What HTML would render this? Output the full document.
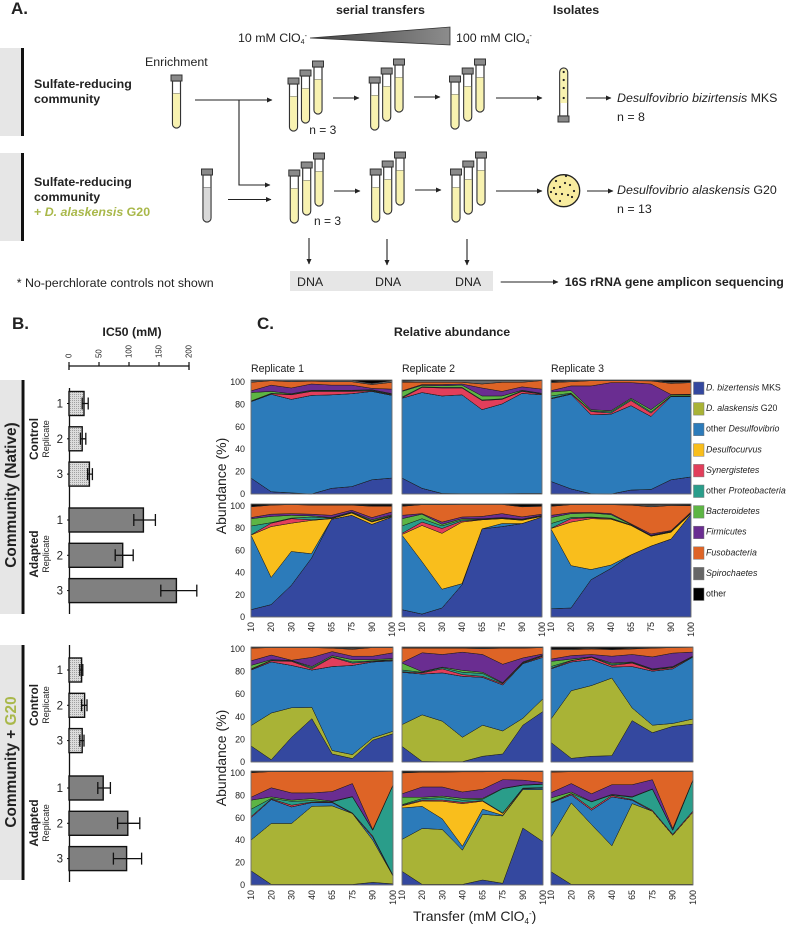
<!DOCTYPE html>
<html lang="en">
<head>
<meta charset="utf-8">
<title>Perchlorate enrichment figure</title>
<style>
html,body{margin:0;padding:0;background:#fff}
svg{display:block}
text{font-family:"Liberation Sans",sans-serif;fill:#222}
.b{font-weight:700}
.i{font-style:italic}
</style>
</head>
<body>
<svg id="fig" width="788" height="927" viewBox="0 0 788 927" xmlns="http://www.w3.org/2000/svg">
<defs>
  <marker id="ah" markerWidth="6" markerHeight="6" refX="5" refY="2.5" orient="auto" markerUnits="userSpaceOnUse"><path d="M0 0L5.5 2.5L0 5Z" fill="#222"/></marker>
  <linearGradient id="tri" x1="0" x2="1" y1="0" y2="0"><stop offset="0" stop-color="#444"/><stop offset="1" stop-color="#8c8c8c"/></linearGradient>
  <pattern id="stipple" width="2" height="2" patternUnits="userSpaceOnUse"><rect width="2" height="2" fill="#dcdcdc"/><rect width="1" height="1" fill="#a0a0a0"/></pattern>
  <g id="tube-y">
    <path d="M-4 6V49a4 4 0 0 0 8 0V6Z" fill="#fff" stroke="#333" stroke-width="1.2"/>
    <path d="M-3.4 18.5V49a3.4 3.4 0 0 0 6.8 0V18.5Z" fill="#f8f2b0"/>
    <path d="M-3.4 18.5H3.4" stroke="#9a9a80" stroke-width="0.8"/>
    <rect x="-5.5" y="0" width="11" height="6" fill="#8a8a8a" stroke="#333" stroke-width="1"/>
  </g>
  <g id="tube-g">
    <path d="M-4 6V49a4 4 0 0 0 8 0V6Z" fill="#fff" stroke="#333" stroke-width="1.2"/>
    <path d="M-3.4 18.5V49a3.4 3.4 0 0 0 6.8 0V18.5Z" fill="#d9d9d9"/>
    <path d="M-3.4 18.5H3.4" stroke="#888" stroke-width="0.8"/>
    <rect x="-5.5" y="0" width="11" height="6" fill="#8a8a8a" stroke="#333" stroke-width="1"/>
  </g>
</defs>

<g>
  <text class="b" x="11" y="14" font-size="17">A.</text>
  <text class="b" x="336" y="14" font-size="12.4">serial transfers</text>
  <text class="b" x="553" y="14" font-size="12.4">Isolates</text>
  <text x="238" y="42" font-size="12.4">10 mM ClO<tspan dy="2" font-size="7">4</tspan><tspan dy="-6" font-size="7">-</tspan></text>
  <polygon points="310,38 450,27 450,45" fill="url(#tri)" stroke="#333" stroke-width="0.8"/>
  <text x="456" y="42" font-size="12.4">100 mM ClO<tspan dy="2" font-size="7">4</tspan><tspan dy="-6" font-size="7">-</tspan></text>

  <rect x="0" y="48" width="21" height="88" fill="#e6e6e6"/>
  <rect x="21" y="48" width="3" height="88" fill="#111"/>
  <rect x="0" y="153" width="21" height="88" fill="#e6e6e6"/>
  <rect x="21" y="153" width="3" height="88" fill="#111"/>
  <text class="b" font-size="12.4"><tspan x="34" y="88">Sulfate-reducing</tspan><tspan x="34" y="103">community</tspan></text>
  <text class="b" font-size="12.4"><tspan x="34" y="186">Sulfate-reducing</tspan><tspan x="34" y="201">community</tspan><tspan x="34" y="216" style="fill:#a9b84a">+ <tspan class="i" style="fill:#a9b84a">D. alaskensis</tspan> G20</tspan></text>
  <text x="145" y="66" font-size="12.4">Enrichment</text>

  <g>
    <use href="#tube-y" x="176.5" y="75"/>
    <use href="#tube-g" x="207" y="169"/>
    <use href="#tube-y" x="293.5" y="78"/><use href="#tube-y" x="305.5" y="70"/><use href="#tube-y" x="318" y="61"/>
    <use href="#tube-y" x="374.7" y="77"/><use href="#tube-y" x="386.7" y="68"/><use href="#tube-y" x="399" y="59"/>
    <use href="#tube-y" x="455" y="76"/><use href="#tube-y" x="467.7" y="68"/><use href="#tube-y" x="480" y="59"/>
    <use href="#tube-y" x="294.3" y="170"/><use href="#tube-y" x="306.7" y="162"/><use href="#tube-y" x="319" y="153"/>
    <use href="#tube-y" x="375.7" y="169"/><use href="#tube-y" x="387.7" y="161"/><use href="#tube-y" x="400" y="152"/>
    <use href="#tube-y" x="456" y="169"/><use href="#tube-y" x="468.3" y="161"/><use href="#tube-y" x="481" y="152"/>
  </g>

  <g>
    <path d="M559.7 116V72a4 4 0 0 1 8 0V116Z" fill="#fff" stroke="#333" stroke-width="1.2"/>
    <path d="M560.3 103V72a3.4 3.4 0 0 1 6.8 0V103Z" fill="#f8f2b0"/>
    <rect x="558" y="116" width="11" height="6" fill="#8a8a8a" stroke="#333"/>
    <circle cx="563.7" cy="72" r="1.1" fill="#222"/><circle cx="563.7" cy="80" r="1.1" fill="#222"/><circle cx="563.7" cy="88" r="1.1" fill="#222"/><circle cx="563.7" cy="98" r="1.1" fill="#222"/>
  </g>
  <g>
    <circle cx="563.7" cy="190.7" r="16" fill="#f8ec9f" stroke="#222" stroke-width="1.3"/>
    <circle cx="556" cy="181" r="1.1" fill="#222"/><circle cx="565" cy="183" r="1.1" fill="#222"/><circle cx="570" cy="185" r="1.1" fill="#222"/><circle cx="560" cy="187" r="1.1" fill="#222"/><circle cx="554" cy="188" r="1.1" fill="#222"/><circle cx="574" cy="191" r="1.1" fill="#222"/><circle cx="556" cy="194" r="1.1" fill="#222"/><circle cx="562" cy="194" r="1.1" fill="#222"/><circle cx="568" cy="195" r="1.1" fill="#222"/><circle cx="572" cy="197" r="1.1" fill="#222"/><circle cx="560" cy="201" r="1.1" fill="#222"/><circle cx="566" cy="176" r="1.1" fill="#222"/><circle cx="551" cy="192" r="1.1" fill="#222"/>
  </g>

  <g stroke="#222" stroke-width="1.1" fill="none">
    <path d="M195 100H272" marker-end="url(#ah)"/>
    <path d="M239 100V185H270" marker-end="url(#ah)"/>
    <path d="M228 199.5H271" marker-end="url(#ah)"/>
    <path d="M333 98H359" marker-end="url(#ah)"/><path d="M334 191H360" marker-end="url(#ah)"/>
    <path d="M414 97H440" marker-end="url(#ah)"/><path d="M415 190H441" marker-end="url(#ah)"/>
    <path d="M496 98H542" marker-end="url(#ah)"/><path d="M496 191H542" marker-end="url(#ah)"/>
    <path d="M586 98H611" marker-end="url(#ah)"/><path d="M587 191H613" marker-end="url(#ah)"/>
    <path d="M309 238V264" marker-end="url(#ah)"/><path d="M387 239V265" marker-end="url(#ah)"/><path d="M467 239V265" marker-end="url(#ah)"/>
    <path d="M500.7 282H558" marker-end="url(#ah)"/>
  </g>
  <text x="309.3" y="134" font-size="12">n = 3</text>
  <text x="314" y="225" font-size="12">n = 3</text>
  <text x="617" y="102" font-size="12.4"><tspan class="i">Desulfovibrio bizirtensis</tspan> MKS</text>
  <text x="617" y="121" font-size="12.4">n = 8</text>
  <text x="617" y="194" font-size="12.4"><tspan class="i">Desulfovibrio alaskensis</tspan> G20</text>
  <text x="617" y="213" font-size="12.4">n = 13</text>
  <rect x="290" y="271" width="203" height="20" fill="#e6e6e6"/>
  <text x="297" y="286" font-size="12.4">DNA</text>
  <text x="375" y="286" font-size="12.4">DNA</text>
  <text x="455" y="286" font-size="12.4">DNA</text>
  <text class="b" x="564.7" y="286" font-size="12.4">16S rRNA gene amplicon sequencing</text>
  <text x="16.7" y="287" font-size="12.4">* No-perchlorate controls not shown</text>
</g>

<g>
  <text class="b" x="12" y="329" font-size="17">B.</text>
  <text class="b" x="132" y="336" font-size="12.4" text-anchor="middle">IC50 (mM)</text>
  <rect x="0" y="380" width="21" height="234" fill="#e6e6e6"/>
  <rect x="21.5" y="380" width="3" height="234" fill="#111"/>
  <rect x="0" y="645" width="21" height="235" fill="#e6e6e6"/>
  <rect x="21.5" y="645" width="3" height="235" fill="#111"/>
  <text class="b" font-size="15.4" text-anchor="middle" transform="translate(16 495) rotate(-90)">Community (Native)</text>
  <text class="b" font-size="15.4" text-anchor="middle" transform="translate(16 762) rotate(-90)">Community + <tspan style="fill:#a9b84a">G20</tspan></text>
  <text class="b" font-size="11.8" text-anchor="middle" transform="translate(38 439) rotate(-90)">Control</text>
  <text font-size="9" text-anchor="middle" transform="translate(49 439) rotate(-90)">Replicate</text>
  <text class="b" font-size="11.8" text-anchor="middle" transform="translate(38 554) rotate(-90)">Adapted</text>
  <text font-size="9" text-anchor="middle" transform="translate(49 554) rotate(-90)">Replicate</text>
  <text class="b" font-size="11.8" text-anchor="middle" transform="translate(38 705) rotate(-90)">Control</text>
  <text font-size="9" text-anchor="middle" transform="translate(49 705) rotate(-90)">Replicate</text>
  <text class="b" font-size="11.8" text-anchor="middle" transform="translate(38 823) rotate(-90)">Adapted</text>
  <text font-size="9" text-anchor="middle" transform="translate(49 823) rotate(-90)">Replicate</text>
</g>
<g id="bars"></g>

<g>
  <text class="b" x="257" y="329" font-size="17">C.</text>
  <text class="b" x="452" y="336" font-size="12.4" text-anchor="middle">Relative abundance</text>
  <text font-size="14" text-anchor="middle" transform="translate(226 486) rotate(-90)">Abundance (%)</text>
  <text font-size="14" text-anchor="middle" transform="translate(226 758) rotate(-90)">Abundance (%)</text>
  <text x="413" y="921" font-size="14">Transfer (mM ClO<tspan dy="3" font-size="8">4</tspan><tspan dy="-8" font-size="8">-</tspan><tspan dy="5">)</tspan></text>
</g>
<g id="areas"></g>
<g id="legend"></g>
</svg>

<script>
/* ---- IC50 bars ---- */
const ic50Ticks = [0, 50, 100, 150, 200];
const replicateLabels = ["1", "2", "3"];
const nativeControlIC50 = [25, 22, 34];
const nativeControlLow = [22, 19, 31];
const nativeControlHigh = [32, 28, 39];
const nativeAdaptedIC50 = [124, 89.5, 179];
const nativeAdaptedLow = [108, 77, 153];
const nativeAdaptedHigh = [144, 107, 213];
const g20ControlIC50 = [21, 26, 22];
const g20ControlLow = [18, 21, 18];
const g20ControlHigh = [23, 30, 25];
const g20AdaptedIC50 = [57, 98, 96];
const g20AdaptedLow = [48, 81, 74];
const g20AdaptedHigh = [69, 118, 121];

/* ---- abundance charts ---- */
const transfers = ["10", "20", "30", "40", "65", "75", "90", "100"];
const abundanceTicks = [0, 20, 40, 60, 80, 100];
const taxa = ["D. bizertensis MKS", "D. alaskensis G20", "other Desulfovibrio", "Desulfocurvus", "Synergistetes", "other Proteobacteria", "Bacteroidetes", "Firmicutes", "Fusobacteria", "Spirochaetes", "other"];
const replicateTitles = ["Replicate 1", "Replicate 2", "Replicate 3"];

/* each row: upper boundary (%) of a taxon in the stack, bottom taxon first */
const nativeControlRep1 = [
  [14,2,1,0,5,6.5,12.5,14],
  [14,2,1,0,5,6.5,12.5,14],
  [81,87.5,83,86.5,87,88,90,86.5],
  [81,87.5,83,86.5,87,88,90,86.5],
  [81.3,88,87,90,90,90,90.5,87],
  [81.6,88.3,87.5,90.5,90.5,90.5,91,87.5],
  [89,90,88,91,91,91,91.5,88],
  [90.5,95.5,93,96.5,95.5,95.5,92.7,92],
  [98,99.4,98.5,99,98.5,98.5,96,98],
  [99.5,99.7,99.7,99.7,99.7,99.7,97,99.5],
  [100,100,100,100,100,100,100,100]];
const nativeControlRep2 = [
  [14,5,0.5,0.3,0.3,0.3,0.5,0.5],
  [14,5,0.5,0.3,0.3,0.3,0.5,0.5],
  [84,89,86,87,74,79,88.3,87],
  [84,89,86,87,74,79,88.3,87],
  [84.3,93.5,93,93,82,83,90,87.5],
  [85,94,93.5,93.5,82.5,83.5,90.5,88],
  [90,95.3,95,95.5,86,86,91,88.3],
  [90.5,96,96,96.5,93,90,94,92],
  [98,98,98,98,96.5,98,98,99.5],
  [99,99.5,99.5,99.5,99.5,99.5,99.5,99.8],
  [100,100,100,100,100,100,100,100]];
const nativeControlRep3 = [
  [11,4.5,0.3,0,3.5,4,12.5,15],
  [11,4.5,0.3,0,3.5,4,12.5,15],
  [83.5,87.5,69.5,70,77.5,68,85.5,85.5],
  [83.5,87.5,69.5,70,77.5,68,85.5,85.5],
  [84,88,72.3,71,82,71,85.7,85.7],
  [86,88.5,73,72,83,72,86,86],
  [89.5,90.7,74,73,84,74,87,87],
  [90.7,94.8,94.8,97.7,97.7,96.5,87.3,87.5],
  [97.7,98.5,99.4,99.4,99.4,99.2,97,97.7],
  [98.5,99.5,99.7,99.8,99.8,99.7,98,98.5],
  [100,100,100,100,100,100,100,100]];
const nativeAdaptedRep1 = [
  [6.5,11,28,52,86.5,90,82,88.5],
  [6.5,11,28,52,86.5,90,82,88.5],
  [72.5,35,58,56,86.5,90,82,88.5],
  [72.5,80,83,85.5,87,92,84,89],
  [72.7,83,87,86,87.2,92.2,84.5,89.3],
  [80.5,83.5,87.5,88.5,87.5,92.5,85,89.8],
  [87,89,90,89.5,88,93,86,90.5],
  [88,91,91.5,91,90,94.5,88,93],
  [97.5,99,99.5,99,99,99,98,98],
  [98,99.4,99.7,99.3,99.3,99.4,98.5,98.5],
  [100,100,100,100,100,100,100,100]];
const nativeAdaptedRep2 = [
  [6.5,2.6,8,28.5,78,80,82.7,88.5],
  [6.5,2.6,8,28.5,78,80,82.7,88.5],
  [72.5,49,24.6,29.5,78,82.7,82.7,88.5],
  [73,81,74,84,86,87,85.6,89],
  [74,84,78.3,85,86.3,87.3,86,89.3],
  [80.6,87,80.6,86,86.6,87.6,86.3,89.6],
  [87,91,82,87,87,88,86.6,90],
  [90,91.5,84,88.5,89,91.5,88.6,91],
  [98,99.4,99.4,99.6,99.6,99.6,97.5,98],
  [98.5,99.6,99.6,99.7,99.7,99.7,98,98.5],
  [100,100,100,100,100,100,100,100]];
const nativeAdaptedRep3 = [
  [7.3,8,33,43,55,62.8,69,91],
  [7.3,8,33,43,55,62.8,69,91],
  [78,45.5,42,46,55,62.8,69,91],
  [78.3,84,87,86.5,81,71.5,75,91.5],
  [78.5,87,88,87,81.3,71.7,75.3,91.7],
  [82.7,88,88.5,87.5,81.5,72,75.6,92],
  [88,91.5,92,90.6,82,72.3,76,92.3],
  [90,92.4,92.5,91.5,82.5,73.5,76.5,93],
  [98,99.4,99.4,99.4,99,97.5,98.7,98.5],
  [98.5,99.6,99.6,99.6,99.3,99,99.3,99],
  [100,100,100,100,100,100,100,100]];
const g20ControlRep1 = [
  [14,2,21.5,37.7,7,3,19,24.6],
  [31.6,42.6,47.2,47.5,10,6.4,21,26.7],
  [80,87,84,80,83,84,87,88],
  [80,87,84,80,83,84,87,88],
  [80.5,88,87.5,81,91,86,87.5,88.5],
  [81,88.5,88,82,91.5,87,88,89],
  [84,89,88.3,83,92.5,89,89,90],
  [88,93,88.5,91,96,92,92,95],
  [99,99.5,99.5,99.5,99,98,99.5,99.5],
  [99.4,99.7,99.7,99.7,99.5,99,99.7,99.7],
  [100,100,100,100,100,100,100,100]];
const g20ControlRep2 = [
  [13.6,0.5,0.3,0.3,5,7,32,44],
  [32.5,41,35.5,21.5,32,27,38,55],
  [78,76.5,77.5,74.5,73.6,67,85.5,91],
  [78,76.5,77.5,74.5,73.6,67,85.5,91],
  [78.5,77.5,81,76,74.5,68,86,92],
  [80,78,82,78,77,68.5,86.5,92.5],
  [86,78.6,82.5,79.7,78,69,87,93],
  [86.5,95,93.5,95.5,93.5,85,90.5,94],
  [99,99,99,99,98.5,99,99,99.5],
  [99.4,99.4,99.4,99.4,99.2,99.4,99.4,99.7],
  [100,100,100,100,100,100,100,100]];
const g20ControlRep3 = [
  [17,3.2,5,5.5,36,25.5,31,33],
  [37.4,62,66.5,73,47,32,33.5,37.4],
  [81,87,89,82.6,83,79,81,91.3],
  [81,87,89,82.6,83,79,81,91.3],
  [81.5,88,91,84,86,80,82,91.6],
  [83,88.3,91.2,85,86.5,80.5,82.5,91.9],
  [87.5,89.5,91.5,86,87,81,83,92.2],
  [89.5,92.5,93.5,92,93.5,91.4,94.7,95.6],
  [97.7,97.7,98.3,97.7,98.3,99,99.5,99.7],
  [98.5,98.5,99,98.2,99,99.5,99.7,99.8],
  [100,100,100,100,100,100,100,100]];
const g20AdaptedRep1 = [
  [12.5,0.5,0.5,0.5,0.5,0.5,2.3,1],
  [39.4,54,54,69,69.4,62.7,39.4,8],
  [59,75,68.5,72.3,72.3,62.7,42,8],
  [59,75,68.5,72.3,72.3,62.7,42,8],
  [60,75.5,70,72.8,72.8,63.2,43,8.5],
  [66.4,76,73.4,74,73,77.3,48,87.5],
  [74.4,77.3,74.4,75.8,73.5,77.6,48.3,87.6],
  [77,85.3,80.8,80.8,82,89,48.7,87.8],
  [98.5,99.5,99.4,99.4,99.5,99.5,99.5,99.7],
  [99,99.7,99.7,99.7,99.7,99.7,99.7,99.8],
  [100,100,100,100,100,100,100,100]];
const g20AdaptedRep2 = [
  [12,0.5,0.5,0.5,4.4,1.5,50,38],
  [40,49.6,48.7,30.6,62,60.6,83.7,83.7],
  [67.6,69,58,34,66.5,61.2,84.5,85],
  [69.4,73.7,73.5,71.4,73.5,62.7,84.7,85.2],
  [70,74.5,74.5,72.5,74,63.2,85,85.5],
  [70.5,75.8,76.7,74.4,75.2,84.5,87.5,88.3],
  [77,77,78,76,76,84.8,87.8,88.6],
  [80,86,86,81.6,84,92.4,92,90],
  [98.3,99,99,99.3,99.3,99.5,99.5,99.5],
  [98.8,99.4,99.4,99.6,99.6,99.7,99.7,99.7],
  [100,100,100,100,100,100,100,100]];
const g20AdaptedRep3 = [
  [11.7,0.5,0.5,0.5,0.5,0.5,0.5,0.5],
  [42,72,53,34.4,71.4,64.7,43.7,64],
  [72,79,65.6,77.3,74.4,64.7,43.7,64],
  [72,79,65.6,77.3,74.4,64.7,43.7,64],
  [72.3,80,67,78.5,75,65.5,44.5,65],
  [72.6,80.3,72.9,79,77,84,48,92],
  [76.4,81.6,73.2,79.5,77.5,84.3,48.3,92.2],
  [81,89,80,88,88,92.4,49.6,92.4],
  [99,99.4,99.4,99.5,99.5,99.5,99.5,99.6],
  [99.4,99.7,99.7,99.7,99.7,99.7,99.7,99.8],
  [100,100,100,100,100,100,100,100]];

const SVGNS = "http://www.w3.org/2000/svg";
const taxaColor = ["#34489f", "#a9b336", "#2c7bba", "#f9be1c", "#e23e5b", "#2a9d8a", "#5db544", "#6a2d91", "#de6426", "#666666", "#000000"];
const taxaItalicPart = [["D. bizertensis", " MKS"], ["D. alaskensis", " G20"], ["", "other ", "Desulfovibrio"], ["Desulfocurvus", ""], ["Synergistetes", ""], ["", "other ", "Proteobacteria"], ["Bacteroidetes", ""], ["Firmicutes", ""], ["Fusobacteria", ""], ["Spirochaetes", ""], ["", "other"]];

function mk(tag, parent, attrs) {
  const el = document.createElementNS(SVGNS, tag);
  for (const k in attrs) el.setAttribute(k, attrs[k]);
  parent.appendChild(el);
  return el;
}

/* IC50 chart */
const barsRoot = document.getElementById("bars");
const ic50X = v => 69 + v * 0.6;

const ic50Axis = mk("path", barsRoot, {d: "M" + ic50X(0) + " 370V366H" + ic50X(200) + "V370", fill: "none", stroke: "#111", "stroke-width": 1.3});


ic50Ticks.forEach(t => {
  const tick = mk("line", barsRoot, {x1: ic50X(t), x2: ic50X(t), y1: 362, y2: 366, stroke: "#111", "stroke-width": 1.2});
  
  
  const lab = mk("text", barsRoot, {transform: "translate(" + (ic50X(t) + 2.5) + " 358) rotate(-90)", "font-size": 7.8});
  lab.textContent = t;
  
  
});

function drawBars(top, vals, lows, highs, fill, groupName) {
  vals.forEach((v, i) => {
    const y = top + i * 35.3;
    const bar = mk("rect", barsRoot, {x: ic50X(0), y: y, width: ic50X(v) - ic50X(0), height: 24, fill: fill, stroke: "#111", "stroke-width": 1.4});
    
    
    const err = mk("path", barsRoot, {d: "M" + ic50X(lows[i]) + " " + (y + 6) + "v12M" + ic50X(lows[i]) + " " + (y + 12) + "H" + ic50X(highs[i]) + "M" + ic50X(highs[i]) + " " + (y + 6) + "v12", fill: "none", stroke: "#111", "stroke-width": 1.3});
    
    
    const tick = mk("line", barsRoot, {x1: 67, x2: 69, y1: y + 12, y2: y + 12, stroke: "#111", "stroke-width": 1});
    
    
    const lab = mk("text", barsRoot, {x: 63, y: y + 16, "font-size": 11.5, "text-anchor": "end"});
    lab.textContent = replicateLabels[i];
    
    
  });
}
const catAxis1 = mk("line", barsRoot, {x1: 69.5, x2: 69.5, y1: 388, y2: 614, stroke: "#111", "stroke-width": 1.3});


const catAxis2 = mk("line", barsRoot, {x1: 69.5, x2: 69.5, y1: 645, y2: 882, stroke: "#111", "stroke-width": 1.3});


drawBars(391.5, nativeControlIC50, nativeControlLow, nativeControlHigh, "url(#stipple)", "native-control");
drawBars(508, nativeAdaptedIC50, nativeAdaptedLow, nativeAdaptedHigh, "#808080", "native-adapted");
drawBars(658, g20ControlIC50, g20ControlLow, g20ControlHigh, "url(#stipple)", "g20-control");
drawBars(776, g20AdaptedIC50, g20AdaptedLow, g20AdaptedHigh, "#808080", "g20-adapted");

/* Abundance charts */
const areasRoot = document.getElementById("areas");

function drawPanel(rows, x0, x1, yTop, yBot, name, withY, withX) {
  const px = i => x0 + (x1 - x0) * i / (transfers.length - 1);
  const py = v => yBot - (yBot - yTop) * v / 100;
  const g = mk("g", areasRoot, {});
  
  
  mk("rect", g, {x: x0, y: yTop, width: x1 - x0, height: yBot - yTop, fill: "#000"});
  rows.forEach((row, s) => {
    const lower = s === 0 ? row.map(() => 0) : rows[s - 1];
    let pts = row.map((v, i) => px(i) + "," + py(v));
    for (let i = row.length - 1; i >= 0; i--) pts.push(px(i) + "," + py(lower[i]));
    const poly = mk("polygon", g, {points: pts.join(" "), fill: taxaColor[s], stroke: "#1a1a1a", "stroke-width": 0.5, "stroke-linejoin": "round"});
    
    
  });
  mk("rect", g, {x: x0, y: yTop, width: x1 - x0, height: yBot - yTop, fill: "none", stroke: "#777", "stroke-width": 0.8});
  if (withY) {
    abundanceTicks.forEach(t => {
      const lab = mk("text", g, {x: 245, y: yBot - (yBot - yTop - 2) * t / 100 + 3, "font-size": 8.9, "text-anchor": "end"});
      lab.textContent = t;
      
      
    });
  }
  if (withX) {
    transfers.forEach((t, i) => {
      const lab = mk("text", g, {transform: "translate(" + (px(i) + 3) + " " + (yBot + 5) + ") rotate(-90)", "font-size": 8.9, "text-anchor": "end"});
      lab.textContent = t;
      
      
    });
  }
}
const colsTop = [[251, 392], [402, 542], [551, 691]];
const colsBottom = [[251, 393], [402, 543], [551, 693]];
drawPanel(nativeControlRep1, colsTop[0][0], colsTop[0][1], 380, 494, "native-control-rep1", true, false);
drawPanel(nativeControlRep2, colsTop[1][0], colsTop[1][1], 380, 494, "native-control-rep2", false, false);
drawPanel(nativeControlRep3, colsTop[2][0], colsTop[2][1], 380, 494, "native-control-rep3", false, false);
drawPanel(nativeAdaptedRep1, colsTop[0][0], colsTop[0][1], 504, 617, "native-adapted-rep1", true, true);
drawPanel(nativeAdaptedRep2, colsTop[1][0], colsTop[1][1], 504, 617, "native-adapted-rep2", false, true);
drawPanel(nativeAdaptedRep3, colsTop[2][0], colsTop[2][1], 504, 617, "native-adapted-rep3", false, true);
drawPanel(g20ControlRep1, colsBottom[0][0], colsBottom[0][1], 647, 762, "g20-control-rep1", true, false);
drawPanel(g20ControlRep2, colsBottom[1][0], colsBottom[1][1], 647, 762, "g20-control-rep2", false, false);
drawPanel(g20ControlRep3, colsBottom[2][0], colsBottom[2][1], 647, 762, "g20-control-rep3", false, false);
drawPanel(g20AdaptedRep1, colsBottom[0][0], colsBottom[0][1], 771, 885, "g20-adapted-rep1", true, true);
drawPanel(g20AdaptedRep2, colsBottom[1][0], colsBottom[1][1], 771, 885, "g20-adapted-rep2", false, true);
drawPanel(g20AdaptedRep3, colsBottom[2][0], colsBottom[2][1], 771, 885, "g20-adapted-rep3", false, true);

replicateTitles.forEach((t, i) => {
  const lab = mk("text", areasRoot, {x: colsTop[i][0], y: 372, "font-size": 10.6});
  lab.textContent = t;
  
  
});

/* Legend */
const legendRoot = document.getElementById("legend");
taxa.forEach((t, i) => {
  const y = 382 + i * 20.6;
  const sw = mk("rect", legendRoot, {x: 693.5, y: y, width: 10.5, height: 12.5, fill: taxaColor[i], stroke: "#777", "stroke-width": 0.5});
  
  
  const lab = mk("text", legendRoot, {x: 706, y: y + 8.5, "font-size": 8.8});
  const parts = taxaItalicPart[i];
  parts.forEach((p, j) => {
    const span = mk("tspan", lab, {});
    span.textContent = p;
    span.setAttribute("font-style", (j === 0 || j === 2) ? "italic" : "normal");
  });
  
  
});
</script>
</body>
</html>
